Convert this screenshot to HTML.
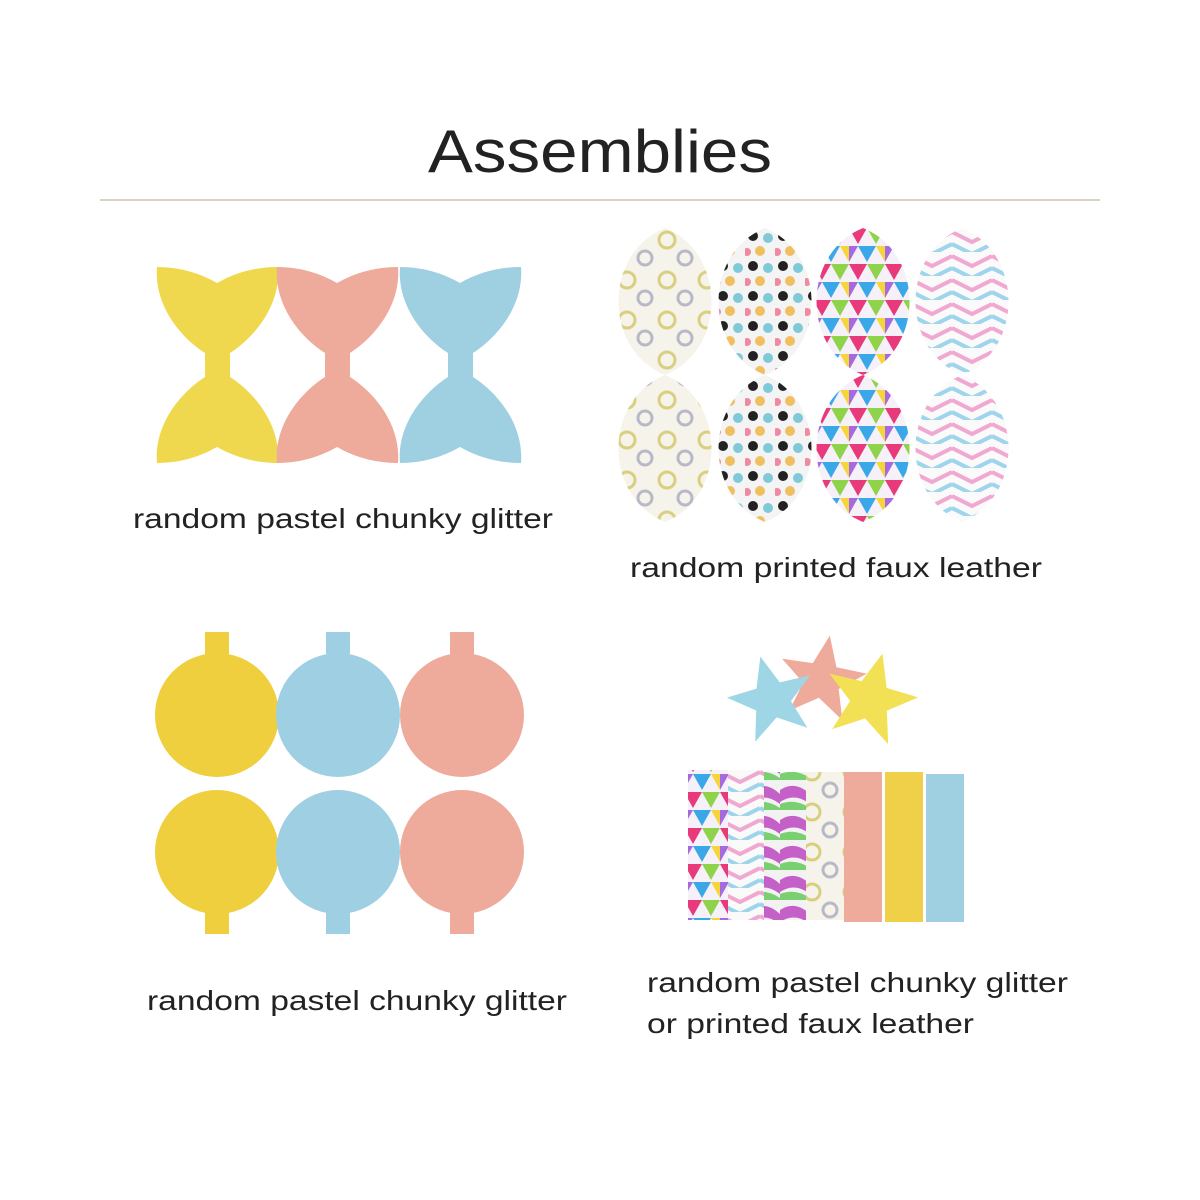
<!DOCTYPE html>
<html><head><meta charset="utf-8"><style>
html,body{margin:0;padding:0;background:#fff;width:1200px;height:1200px;overflow:hidden}
svg{display:block}
text{font-family:"Liberation Sans",sans-serif;fill:#222}
</style></head><body>
<svg width="1200" height="1200" viewBox="0 0 1200 1200" xmlns="http://www.w3.org/2000/svg">
<defs>
<pattern id="p1" width="40" height="40" patternUnits="userSpaceOnUse">
<rect width="40" height="40" fill="#f6f4ea"/><circle cx="12" cy="12" r="8" fill="none" stroke="#d8cf80" stroke-width="3"/><circle cx="30" cy="30" r="7" fill="none" stroke="#b8b8c8" stroke-width="3"/></pattern>
<pattern id="p2" width="30" height="30" patternUnits="userSpaceOnUse">
<rect width="30" height="30" fill="#f4f4f4"/><circle cx="8" cy="8" r="5" fill="#222"/><circle cx="23" cy="10" r="5" fill="#7fc9d8"/><circle cx="15" cy="23" r="5" fill="#f0c060"/><circle cx="2" cy="24" r="4" fill="#f08aa0"/></pattern>
<pattern id="p3" width="36" height="36" patternUnits="userSpaceOnUse">
<rect width="36" height="36" fill="#f6f0f8"/><polygon points="0,0 18,0 9,16" fill="#e83a7a"/><polygon points="18,0 36,0 27,16" fill="#8fd34a"/><polygon points="9,18 27,18 18,34" fill="#3aa8e8"/><polygon points="27,18 36,18 36,34" fill="#f5d63a"/><polygon points="0,18 9,18 0,34" fill="#a56ae0"/></pattern>
<pattern id="p4" width="40" height="24" patternUnits="userSpaceOnUse">
<rect width="40" height="24" fill="#fafafa"/><polyline points="0,4 20,14 40,4" fill="none" stroke="#f0a8d0" stroke-width="4"/><polyline points="0,16 20,26 40,16" fill="none" stroke="#9ed4ec" stroke-width="4"/></pattern>
<pattern id="p5" width="30" height="30" patternUnits="userSpaceOnUse">
<rect width="30" height="30" fill="#f2f2f2"/><path d="M0,10 Q15,0 30,14 L30,24 Q15,12 0,22Z" fill="#c560c8"/><path d="M0,24 Q15,18 30,28 L30,30 L0,30Z" fill="#7ad070"/></pattern>
<path id="bow" d="M2,2 Q34,2 62,18 Q90,2 123,2 C126,40 100,72 75,88 L75,112 C100,128 126,160 123,198 Q90,198 62,182 Q34,198 2,198 C-1,160 25,128 50,112 L50,88 C25,72 -1,40 2,2Z"/>
</defs>

<text x="600" y="172" text-anchor="middle" font-size="60" textLength="344" lengthAdjust="spacingAndGlyphs">Assemblies</text>
<line x1="100" y1="200" x2="1100" y2="200" stroke="#d9d0c6" stroke-width="2"/>

<use href="#bow" transform="translate(155,265)" fill="#efd84e"/>
<use href="#bow" transform="translate(275,265)" fill="#eeaa9a"/>
<use href="#bow" transform="translate(398,265)" fill="#9fd0e2"/>
<text x="133" y="528" font-size="28" textLength="420" lengthAdjust="spacingAndGlyphs">random pastel chunky glitter</text>

<g transform="translate(615,228)">
<path d="M50,0 C112,25 112,122 50,147 C-12,122 -12,25 50,0Z" fill="url(#p1)"/>
<path d="M50,147 C112,172 112,269 50,294 C-12,269 -12,172 50,147Z" fill="url(#p1)"/></g>
<g transform="translate(715,228)">
<path d="M50,0 C112,25 112,122 50,147 C-12,122 -12,25 50,0Z" fill="url(#p2)"/>
<path d="M50,147 C112,172 112,269 50,294 C-12,269 -12,172 50,147Z" fill="url(#p2)"/></g>
<g transform="translate(813,228)">
<path d="M50,0 C112,25 112,122 50,147 C-12,122 -12,25 50,0Z" fill="url(#p3)"/>
<path d="M50,147 C112,172 112,269 50,294 C-12,269 -12,172 50,147Z" fill="url(#p3)"/></g>
<g transform="translate(912,228)">
<path d="M50,0 C112,25 112,122 50,147 C-12,122 -12,25 50,0Z" fill="url(#p4)"/>
<path d="M50,147 C112,172 112,269 50,294 C-12,269 -12,172 50,147Z" fill="url(#p4)"/></g>
<text x="630" y="577" font-size="28" textLength="412" lengthAdjust="spacingAndGlyphs">random printed faux leather</text>

<g fill="#efcf3e"><rect x="205" y="632" width="24" height="22"/><circle cx="217" cy="715" r="62"/><circle cx="217" cy="852" r="62"/><rect x="205" y="912" width="24" height="22"/></g>
<g fill="#9fcfe2"><rect x="326" y="632" width="24" height="22"/><circle cx="338" cy="715" r="62"/><circle cx="338" cy="852" r="62"/><rect x="326" y="912" width="24" height="22"/></g>
<g fill="#eeaa9a"><rect x="450" y="632" width="24" height="22"/><circle cx="462" cy="715" r="62"/><circle cx="462" cy="852" r="62"/><rect x="450" y="912" width="24" height="22"/></g>
<text x="147" y="1010" font-size="28" textLength="420" lengthAdjust="spacingAndGlyphs">random pastel chunky glitter</text>

<polygon transform="translate(822,680) rotate(10)" points="0,-45 12,-15 43,-14 18,6 27,36 0,18 -27,36 -18,6 -43,-14 -12,-15" fill="#eeaa9a"/>
<polygon transform="translate(772,700) rotate(-15)" points="0,-45 12,-15 43,-14 18,6 27,36 0,18 -27,36 -18,6 -43,-14 -12,-15" fill="#9fd6e6"/>
<polygon transform="translate(870,700) rotate(15)" points="0,-48 13,-16 46,-15 19,6 29,38 0,19 -29,38 -19,6 -46,-15 -13,-16" fill="#f2e055"/>

<rect x="688" y="770" width="40" height="150" fill="url(#p3)"/>
<rect x="728" y="770" width="36" height="150" fill="url(#p4)"/>
<rect x="764" y="772" width="42" height="148" fill="url(#p5)"/>
<rect x="806" y="772" width="38" height="148" fill="url(#p1)"/>
<rect x="844" y="772" width="38" height="150" fill="#eeaa9a"/>
<rect x="885" y="772" width="38" height="150" fill="#efd048"/>
<rect x="926" y="774" width="38" height="148" fill="#9fd0e2"/>
<text x="647" y="992" font-size="28" textLength="421" lengthAdjust="spacingAndGlyphs">random pastel chunky glitter</text>
<text x="647" y="1033" font-size="28" textLength="327" lengthAdjust="spacingAndGlyphs">or printed faux leather</text>
</svg>
</body></html>
